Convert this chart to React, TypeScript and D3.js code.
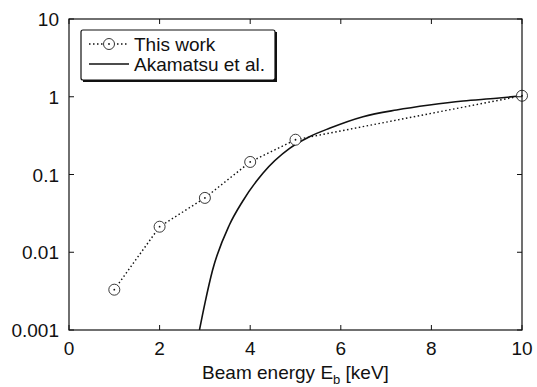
import React from "react";
import * as d3 from "d3";

const thisWorkE = [1, 2, 3, 4, 5, 10];
const thisWorkY = [0.0033, 0.0213, 0.05, 0.145, 0.28, 1.03];

const akamatsuE = [2.88, 3.0, 3.17, 3.54, 3.83, 4.28, 4.87, 5.31, 5.75, 6.49, 7.23, 7.96, 8.7, 9.44, 10];
const akamatsuY = [0.001, 0.0022, 0.0059, 0.0224, 0.045, 0.104, 0.217, 0.306, 0.393, 0.554, 0.676, 0.783, 0.882, 0.955, 1.03];

const xTicks = [0, 2, 4, 6, 8, 10];
const yTicks = [0.001, 0.01, 0.1, 1, 10];
const yTickLabels = ["0.001", "0.01", "0.1", "1", "10"];

const W = 537;
const H = 387;
const m = { left: 69, right: 15, top: 19, bottom: 57 };
const font = "Liberation Sans, Arial, Helvetica, sans-serif";

export default function App() {
  const x = d3.scaleLinear().domain([0, 10]).range([m.left, W - m.right]);
  const y = d3.scaleLog().domain([0.001, 10]).range([H - m.bottom, m.top]);
  const twLine = d3
    .line<number>()
    .x((_, i) => x(thisWorkE[i]))
    .y((d) => y(d));
  const akLine = d3
    .line<number>()
    .x((_, i) => x(akamatsuE[i]))
    .y((d) => y(d))
    .curve(d3.curveMonotoneX);
  const x0 = m.left, x1 = W - m.right, y0 = m.top, y1 = H - m.bottom;
  const tl = 5;
  return (
    <svg width={W} height={H} style={{ position: "absolute", left: 0, top: 0, background: "#fff" }} fontFamily={font}>
      <rect x={0} y={0} width={W} height={H} fill="#fff" />
      <defs>
        <clipPath id="plot">
          <rect x={x0} y={y0} width={x1 - x0} height={y1 - y0} />
        </clipPath>
      </defs>
      {/* data */}
      <g clipPath="url(#plot)">
        <path d={akLine(akamatsuY) || ""} fill="none" stroke="#111" strokeWidth={1.6} />
      </g>
      <path d={twLine(thisWorkY) || ""} fill="none" stroke="#111" strokeWidth={1.4} strokeDasharray="1.5,2.5" />
      {thisWorkY.map((v, i) => (
        <g key={i}>
          <circle cx={x(thisWorkE[i])} cy={y(v)} r={5.5} fill="#fff" stroke="#222" strokeWidth={0.9} />
          <circle cx={x(thisWorkE[i])} cy={y(v)} r={0.9} fill="#111" />
        </g>
      ))}
      {/* frame */}
      <rect x={x0} y={y0} width={x1 - x0} height={y1 - y0} fill="none" stroke="#111" strokeWidth={1.2} />
      {xTicks.map((t) => (
        <g key={"x" + t}>
          <line x1={x(t)} x2={x(t)} y1={y1} y2={y1 - tl} stroke="#111" strokeWidth={1} />
          <line x1={x(t)} x2={x(t)} y1={y0} y2={y0 + tl} stroke="#111" strokeWidth={1} />
          <text x={x(t)} y={y1 + 25} textAnchor="middle" fontSize={19} fill="#111">
            {t}
          </text>
        </g>
      ))}
      {yTicks.map((t, i) => (
        <g key={"y" + t}>
          <line x1={x0} x2={x0 + tl} y1={y(t)} y2={y(t)} stroke="#111" strokeWidth={1} />
          <line x1={x1} x2={x1 - tl} y1={y(t)} y2={y(t)} stroke="#111" strokeWidth={1} />
          <text x={x0 - 10} y={y(t) + 7} textAnchor="end" fontSize={19} fill="#111">
            {yTickLabels[i]}
          </text>
        </g>
      ))}
      <text x={(x0 + x1) / 2} y={379} textAnchor="middle" fontSize={19} fill="#111">
        Beam energy E<tspan fontSize={13} dy={5}>b</tspan>
        <tspan dy={-5}> [keV]</tspan>
      </text>
      {/* legend */}
      <rect x={83} y={32} width={194} height={50} fill="#111" />
      <rect x={81} y={30} width={194} height={50} fill="#fff" stroke="#111" strokeWidth={1.2} rx={2} />
      <line x1={89} x2={129} y1={44} y2={44} stroke="#111" strokeWidth={1.4} strokeDasharray="1.5,2.5" />
      <circle cx={109} cy={44} r={5.5} fill="#fff" stroke="#222" strokeWidth={0.9} />
      <circle cx={109} cy={44} r={0.9} fill="#111" />
      <text x={134} y={51} fontSize={19} fill="#111">This work</text>
      <line x1={89} x2={129} y1={64} y2={64} stroke="#111" strokeWidth={1.6} />
      <text x={134} y={71} fontSize={19} fill="#111">Akamatsu et al.</text>
    </svg>
  );
}
